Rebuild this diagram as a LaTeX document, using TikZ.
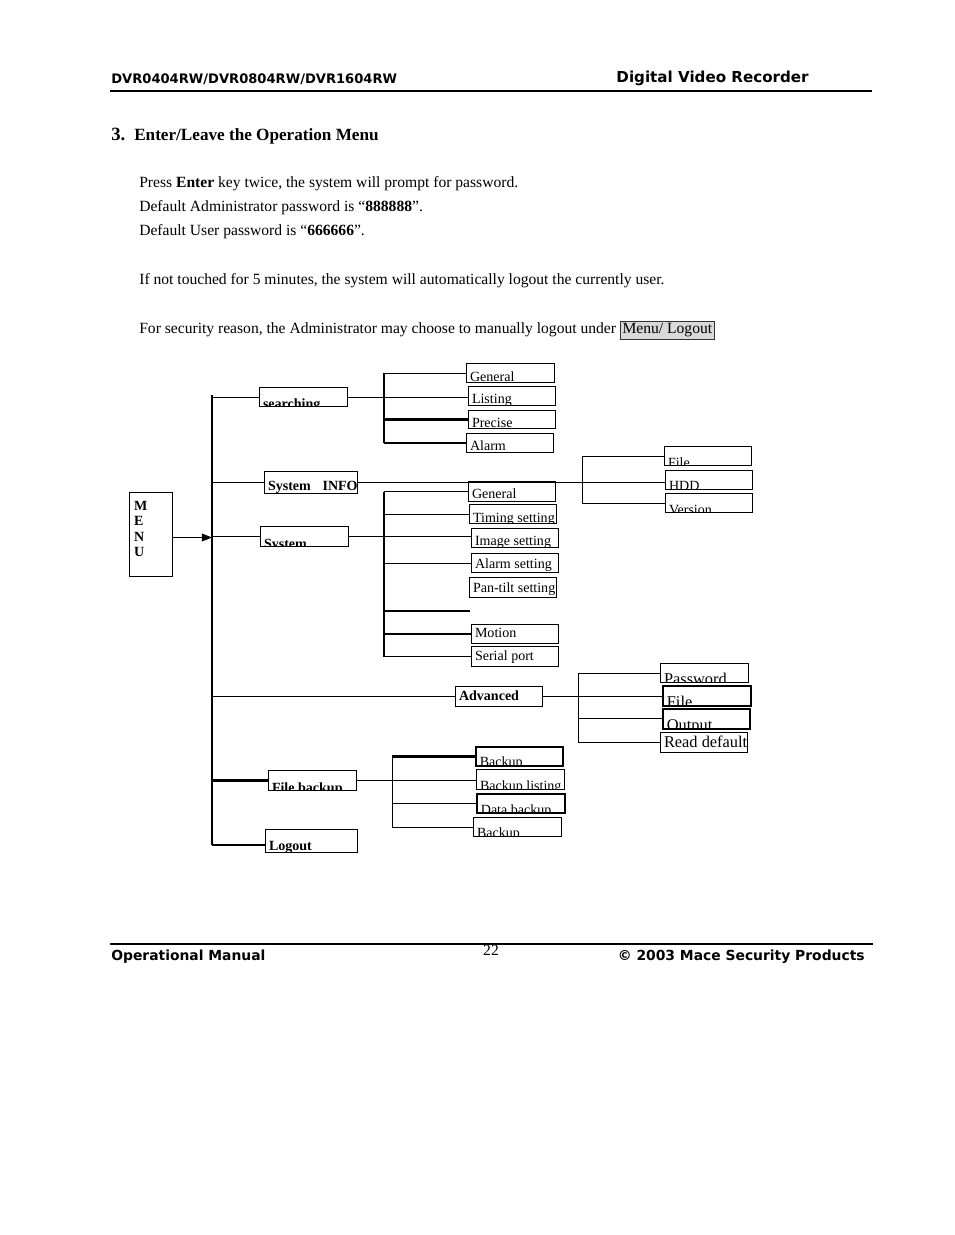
\documentclass[tikz,border=0pt]{standalone}
\usepackage{fontspec}
\setmainfont{Liberation Serif}
\newfontfamily\hdrfont{DejaVu Sans}
\usepackage{xcolor}
\usetikzlibrary{arrows.meta}

\newcommand{\pxu}{0.6414pt}
\newcommand{\itemfont}{\fontsize{9}{10.5}\selectfont}
\newcommand{\advfont}{\fontsize{10.5}{12}\selectfont}
\setlength{\fboxsep}{1.2pt}
\setlength{\fboxrule}{0.5pt}

\tikzset{
  itembox/.style 2 args={draw, line width=0.65pt, inner sep=0pt, anchor=north west,
    minimum width={#1*\pxu}, minimum height={#2*\pxu}},
  heavybox/.style={line width=1.2pt},
  lbl/.style 2 args={path picture={%
    \node[anchor=base west, inner sep=0pt, minimum width=0pt, minimum height=0pt,
      draw=none, path picture={}, font=\itemfont]
      at ([xshift=3*\pxu, yshift={-1*(#1)*\pxu}]path picture bounding box.south west) {#2};}},
  wire/.style={line width=0.65pt},
  heavy/.style={line width=1.4pt},
  body/.style={anchor=base west, inner sep=0pt, font=\fontsize{10}{12}\selectfont},
  hdr/.style={inner sep=0pt, font=\hdrfont\bfseries\fontsize{#1}{12}\selectfont},
}

\begin{document}
\begin{tikzpicture}[x=\pxu, y=-\pxu]
  \useasboundingbox[fill=white] (0,0) rectangle (954,1235);

  % Kopfzeile
  \node[hdr=8.4, anchor=base west] (hdrL) at (111,84) {DVR0404RW/DVR0804RW/DVR1604RW};
  \node[hdr=9.7, anchor=base east] (hdrR) at (809,83) {Digital Video Recorder};
  \draw[line width=0.8pt] (110,91) -- (872,91);

  % Text
  \node[anchor=base west, inner sep=0pt, font=\bfseries\fontsize{11}{13}\selectfont] (sec) at (111,141)
    {\makebox[14.75pt][l]{\fontsize{12}{13}\selectfont 3.}Enter/Leave the Operation Menu};
  \node[body] (p1) at (139,188) {Press \textbf{Enter} key twice, the system will prompt for password.};
  \node[body] (p2) at (139,212) {Default Administrator password is ``\textbf{888888}''.};
  \node[body] (p3) at (139,236) {Default User password is ``\textbf{666666}''.};
  \node[body] (p4) at (139,285) {If not touched for 5 minutes, the system will automatically logout the currently user.};
  \node[body] (p5) at (139,334) {For security reason, the Administrator may choose to manually logout under
    \fcolorbox{black!80}{black!15}{Menu/ Logout}};

  % Menuebaum
  \node[itembox={43}{84}, path picture={%
    \node[anchor=north west, inner sep=0pt, minimum width=0pt, minimum height=0pt, draw=none,
      path picture={}, align=left, font=\bfseries\fontsize{9}{9.8}\selectfont]
      at ([xshift=4*\pxu, yshift=-8.5*\pxu]path picture bounding box.north west) {M\\E\\N\\U};}] (menu) at (129,492) {};

  \node[itembox={88}{19}, lbl={1.5}{\bfseries searching}] (srch) at (259,387) {};
  \node[itembox={93}{22}, lbl={-3}{\bfseries System\hspace{7.5pt}INFO}] (sysinfo) at (264,471) {};
  \node[itembox={88}{20}, lbl={2}{\bfseries System}] (sys) at (260,526) {};
  \node[itembox={87}{20}, lbl={-6}{\bfseries Advanced}] (adv) at (455,686) {};
  \node[itembox={88}{20}, lbl={2}{\bfseries File backup}] (fbk) at (268,770) {};
  \node[itembox={92}{23}, lbl={-2}{\bfseries Logout}] (logout) at (265,829) {};

  % searching
  \node[itembox={88}{19}, lbl={-1.5}{General}] (sGen) at (466,363) {};
  \node[itembox={87}{19}, lbl={-2}{Listing}] (sLst) at (468,386) {};
  \node[itembox={87}{18}, lbl={-1.5}{Precise}] (sPrc) at (468,410) {};
  \node[itembox={87}{19}, lbl={-2}{Alarm}] (sAlm) at (466,433) {};

  % System INFO
  \node[itembox={87}{19}, lbl={1.5}{File}] (iFile) at (664,446) {};
  \node[itembox={87}{19}, lbl={1}{HDD}] (iHDD) at (665,470) {};
  \node[itembox={87}{19}, lbl={1.5}{Version}] (iVer) at (665,493) {};

  % System
  \node[itembox={87}{20}, lbl={-3}{General}] (yGen) at (468,481) {};
  \node[itembox={87}{19}, lbl={-1.5}{Timing setting}] (yTim) at (469,504) {};
  \node[itembox={87}{19}, lbl={-2}{Image setting}] (yImg) at (471,528) {};
  \node[itembox={87}{19}, lbl={-4}{Alarm setting}] (yAla) at (471,553) {};
  \node[itembox={87}{20}, lbl={-5}{Pan-tilt setting}] (yPan) at (469,577) {};
  \node[itembox={87}{19}, lbl={-6}{Motion}] (yMot) at (471,624) {};
  \node[itembox={87}{20}, lbl={-6}{Serial port}] (ySer) at (471,646) {};

  % Advanced
  \node[itembox={88}{19}, lbl={1.5}{\advfont Password}] (aPwd) at (660,663) {};
  \node[itembox={88}{20}, heavybox, lbl={1.5}{\advfont File}] (aFile) at (662,685) {};
  \node[itembox={87}{20}, heavybox, lbl={2}{\advfont Output}] (aOut) at (662,708) {};
  \node[itembox={87}{20}, lbl={-5.5}{\advfont Read default}] (aRd) at (660,732) {};

  % File backup
  \node[itembox={87}{19}, heavybox, lbl={1}{Backup}] (bBk1) at (475,746) {};
  \node[itembox={88}{20}, lbl={1}{Backup listing}] (bBk2) at (476,769) {};
  \node[itembox={88}{19}, heavybox, lbl={1.5}{Data backup}] (bData) at (476,793) {};
  \node[itembox={88}{19}, lbl={1}{Backup}] (bBk3) at (473,817) {};

  % Sammelleitungen
  \coordinate (trunk) at (212,395);
  \coordinate (trunkEnd) at (212,845);
  \coordinate (sBus) at (384,373);
  \coordinate (iBus) at (582,457);
  \coordinate (yBus) at (384,490);
  \coordinate (yFree) at (470,611);
  \coordinate (aBus) at (578,673);
  \coordinate (bBus) at (392,757);
  \coordinate (menuOut) at ([yshift=-3*\pxu]menu.east);

  \draw[wire,-{Triangle[length=6.5pt,width=5pt]}] (menuOut) -- (menuOut -| trunk);
  \draw[wire] (trunk) -- (trunkEnd);
  \draw[wire] (srch.west) -- (srch.west -| trunk);
  \draw[wire] (sysinfo.west) -- (sysinfo.west -| trunk);
  \draw[wire] (sys.west) -- (sys.west -| trunk);
  \draw[wire] (adv.west) -- (adv.west -| trunk);
  \draw[heavy] (fbk.west) -- (fbk.west -| trunk);
  \draw[heavy] (trunkEnd) -- (trunkEnd -| logout.west);

  \draw[wire] (srch.east) -- (srch.east -| sLst.west);
  \draw[wire] (sGen.west -| sBus) -- (sAlm.west -| sBus);
  \draw[wire] (sGen.west -| sBus) -- (sGen.west);
  \draw[heavy] (sPrc.west -| sBus) -- (sPrc.west);
  \draw[heavy] (sAlm.west -| sBus) -- (sAlm.west);

  \draw[wire] (sysinfo.east) -- (sysinfo.east -| iHDD.west);
  \draw[wire] (iFile.west -| iBus) -- (iVer.west -| iBus);
  \draw[wire] (iFile.west -| iBus) -- (iFile.west);
  \draw[wire] (iVer.west -| iBus) -- (iVer.west);

  \draw[wire] (sys.east) -- (sys.east -| yImg.west);
  \draw[wire] (yGen.west -| yBus) -- (ySer.west -| yBus);
  \draw[wire] (yGen.west -| yBus) -- (yGen.west);
  \draw[wire] (yTim.west -| yBus) -- (yTim.west);
  \draw[wire] (yAla.west -| yBus) -- (yAla.west);
  \draw[wire] (yFree -| yBus) -- (yFree);
  \draw[heavy] (yMot.west -| yBus) -- (yMot.west);
  \draw[wire] (ySer.west -| yBus) -- (ySer.west);

  \draw[wire] (adv.east) -- (adv.east -| aFile.west);
  \draw[wire] (aPwd.west -| aBus) -- (aRd.west -| aBus);
  \draw[wire] (aPwd.west -| aBus) -- (aPwd.west);
  \draw[wire] (aOut.west -| aBus) -- (aOut.west);
  \draw[wire] (aRd.west -| aBus) -- (aRd.west);

  \draw[wire] (fbk.east) -- (fbk.east -| bBk2.west);
  \draw[wire] (bBk1.west -| bBus) -- (bBk3.west -| bBus);
  \draw[heavy] (bBk1.west -| bBus) -- (bBk1.west);
  \draw[wire] (bData.west -| bBus) -- (bData.west);
  \draw[wire] (bBk3.west -| bBus) -- (bBk3.west);

  % Fusszeile
  \draw[line width=0.8pt] (110,944) -- (873,944);
  \node[hdr=8.9, anchor=base west] (ftL) at (111,960) {Operational Manual};
  \node[anchor=base, inner sep=0pt, font=\fontsize{10}{12}\selectfont] (pg) at (491,955) {22};
  \node[hdr=8.9, anchor=base east] (ftR) at (865,960) {© 2003 Mace Security Products};
\end{tikzpicture}
\end{document}
